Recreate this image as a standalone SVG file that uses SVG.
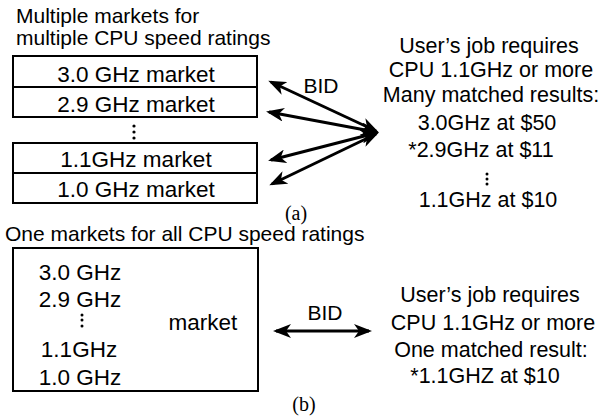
<svg xmlns="http://www.w3.org/2000/svg" width="604" height="418" viewBox="0 0 604 418">
<style>
text{font-family:"Liberation Sans","Open Sans",Arial,sans-serif;font-size:21px;fill:#000}
.c{text-anchor:middle}
.b{font-size:22.5px}
.r{font-size:21.5px}
.lbl{font-family:"Liberation Serif","Times New Roman",serif;font-size:20px;text-anchor:middle}
.box{fill:#fff;stroke:#000;stroke-width:2}
.con{fill:none;stroke:#000;stroke-width:3;marker-start:url(#ah);marker-end:url(#ah)}
</style>
<defs>
<marker id="ah" viewBox="0 0 18 14" refX="15" refY="7" markerWidth="18" markerHeight="14" markerUnits="userSpaceOnUse" orient="auto-start-reverse">
<path d="M0,0 L18,7 L0,14 L5,7 Z" fill="#000"/>
</marker>
</defs>
<rect width="604" height="418" fill="#fff"/>

<g id="heading-a">
<text x="16" y="23">Multiple markets for</text>
<text x="16" y="45">multiple CPU speed ratings</text>
</g>
<g id="market-3-0">
<rect class="box" x="13" y="56" width="244" height="31"/>
<text class="c b" x="136" y="82">3.0 GHz market</text>
</g>
<g id="market-2-9">
<rect class="box" x="13" y="87" width="244" height="30"/>
<text class="c b" x="136" y="112">2.9 GHz market</text>
</g>
<g id="dots-a" fill="#000">
<circle cx="134" cy="126" r="1.6"/>
<circle cx="134" cy="132" r="1.6"/>
<circle cx="134" cy="138" r="1.6"/>
</g>
<g id="market-1-1">
<rect class="box" x="13" y="143" width="244" height="30"/>
<text class="c b" x="136" y="167">1.1GHz market</text>
</g>
<g id="market-1-0">
<rect class="box" x="13" y="173" width="244" height="30"/>
<text class="c b" x="136" y="197">1.0 GHz market</text>
</g>

<g id="user-a">
<text class="c r" x="489" y="53">User’s job requires</text>
<text class="c r" x="491" y="77">CPU 1.1GHz or more</text>
<text class="c r" x="491" y="102">Many matched results:</text>
<text class="c r" x="487" y="130">3.0GHz at $50</text>
<text class="c r" x="481" y="157">*2.9GHz at $11</text>
<circle cx="487" cy="174" r="1.5"/>
<circle cx="487" cy="179" r="1.5"/>
<circle cx="487" cy="184" r="1.5"/>
<text class="c r" x="488" y="207">1.1GHz at $10</text>
</g>

<g id="caption-a"><text class="lbl" x="296" y="220">(a)</text></g>

<g id="heading-b">
<text x="5" y="241">One markets for all CPU speed ratings</text>
</g>
<g id="market-b">
<rect class="box" x="13" y="248" width="245" height="143"/>
<text class="c b" x="80" y="280">3.0 GHz</text>
<text class="c b" x="80" y="307">2.9 GHz</text>
<circle cx="82" cy="315" r="1.5"/>
<circle cx="82" cy="320" r="1.5"/>
<circle cx="82" cy="326" r="1.5"/>
<text class="c b" x="79" y="357">1.1GHz</text>
<text class="c b" x="80" y="385">1.0 GHz</text>
<text class="c b" x="203" y="330">market</text>
</g>

<g id="user-b">
<text class="c r" x="490" y="302">User’s job requires</text>
<text class="c r" x="493" y="330">CPU 1.1GHz or more</text>
<text class="c r" x="491" y="357">One matched result:</text>
<text class="c r" x="485" y="383">*1.1GHZ at $10</text>
</g>

<g id="caption-b"><text class="lbl" x="304" y="411">(b)</text></g>

<g id="connectors">
<path class="con" d="M376,131 L271,82"/>
<path class="con" d="M376,132 L269,112"/>
<path class="con" d="M376,133 L271,160"/>
<path class="con" d="M376,134 L272,184"/>
<text class="c" x="321" y="93">BID</text>
<path class="con" d="M276,331 H369"/>
<text class="c" x="325" y="320">BID</text>
</g>
</svg>
